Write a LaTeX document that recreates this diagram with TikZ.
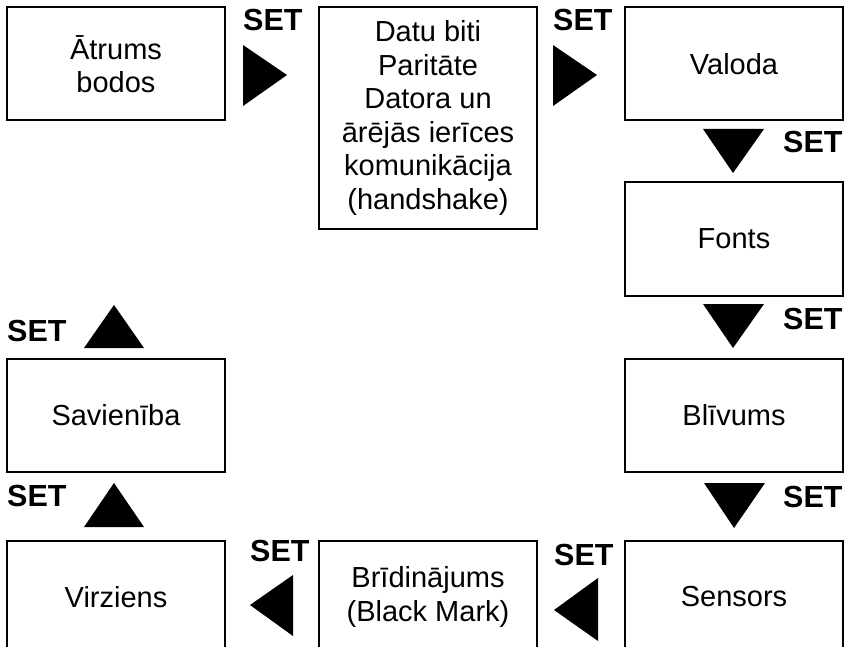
\documentclass[tikz,border=0pt]{standalone}
\usepackage{fontspec}
\setmainfont{Liberation Sans}
\usetikzlibrary{positioning}
\tikzset{
  menubox/.style={draw, line width=2pt, minimum width=218pt, minimum height=113pt,
    align=center, inner sep=0pt, font=\fontsize{29}{33.5}\selectfont},
  setlbl/.style={anchor=base west, inner sep=0pt, font=\fontsize{30.5}{32}\selectfont\bfseries}
}

\begin{document}
\begin{tikzpicture}[x=1pt,y=-1pt]
  \useasboundingbox (0,0) rectangle (846,647);
  \clip (0,0) rectangle (846,647);
  % top row
  \node[menubox] (atrums) at (116,64) {Ātrums\\bodos};
  \node[menubox, minimum height=222pt] (datu) at (428,118)
    {Datu biti\\Paritāte\\Datora un\\ārējās ierīces\\komunikācija\\(handshake)};
  \node[menubox] (valoda) at (734,64) {Valoda};
  % right column
  \node[menubox] (fonts) at (734,239) {Fonts};
  \node[menubox] (blivums) at (734,415) {Blīvums};
  % bottom row
  \node[menubox] (sensors) at (734,597) {Sensors};
  \node[menubox] (bridin) at (428,597) {Brīdinājums\\(Black Mark)};
  \node[menubox] (virziens) at (116,597) {Virziens};
  % left column
  \node[menubox] (savien) at (116,415) {Savienība};
  % SET triangles
  \fill (243,45) -- (243,106) -- (287,75) -- cycle;
  \fill (553,45) -- (553,106) -- (597,75) -- cycle;
  \fill (703,129) -- (764,129) -- (733,173) -- cycle;
  \fill (703,304) -- (764,304) -- (733,348) -- cycle;
  \fill (704,483) -- (765,483) -- (734,528) -- cycle;
  \fill (598,578) -- (598,641) -- (554,610) -- cycle;
  \fill (293,575) -- (293,636) -- (250,605) -- cycle;
  \fill (84,527) -- (144,527) -- (114,483) -- cycle;
  \fill (84,348) -- (144,348) -- (114,305) -- cycle;
  % SET labels
  \node[setlbl] (set1) at (243,31) {SET};
  \node[setlbl] (set2) at (553,31) {SET};
  \node[setlbl] (set3) at (783,153) {SET};
  \node[setlbl] (set4) at (783,329) {SET};
  \node[setlbl] (set5) at (783,507) {SET};
  \node[setlbl] (set6) at (554,565) {SET};
  \node[setlbl] (set7) at (250,561) {SET};
  \node[setlbl] (set8) at (7,506) {SET};
  \node[setlbl] (set9) at (7,341) {SET};
\end{tikzpicture}
\end{document}
